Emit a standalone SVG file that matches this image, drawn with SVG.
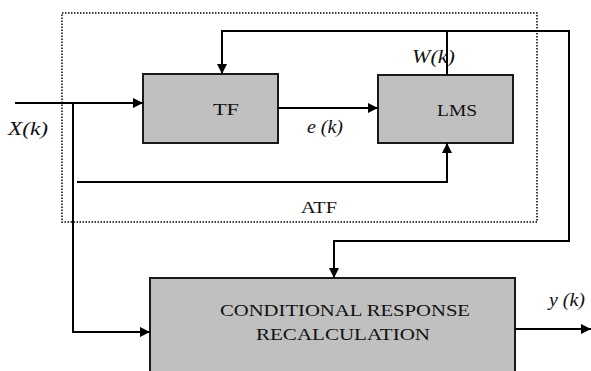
<svg xmlns="http://www.w3.org/2000/svg" width="591" height="371" viewBox="0 0 591 371">
<style>
.blk{fill:#c0c0c0;stroke:#1a1a1a;stroke-width:2}
.ln{fill:none;stroke:#000;stroke-width:2}
text{font-family:'Liberation Serif','DejaVu Serif','Times New Roman',serif;fill:#111}
.lbl{font-size:17px}
.it{font-style:italic;font-size:18px}
</style>
<defs>
<marker id="ah" viewBox="0 0 10 10" refX="10" refY="5" markerWidth="10" markerHeight="10" markerUnits="userSpaceOnUse" orient="auto">
<path d="M0,0 L10,5 L0,10 Z" fill="#000"/>
</marker>
</defs>
<rect x="62" y="13" width="475" height="209" fill="none" stroke="#000" stroke-width="1.5" stroke-dasharray="1.5,1.5"/>
<g id="tf"><rect class="blk" x="143" y="74" width="135" height="69"/><text class="lbl" x="226" y="115" text-anchor="middle" textLength="26" lengthAdjust="spacingAndGlyphs">TF</text></g>
<g id="lms"><rect class="blk" x="378" y="75" width="135" height="68"/><text class="lbl" x="457" y="116" text-anchor="middle" textLength="40" lengthAdjust="spacingAndGlyphs">LMS</text></g>
<g id="crr"><rect class="blk" x="150" y="278" width="365" height="100"/>
<text class="lbl" x="345" y="316" text-anchor="middle" textLength="250" lengthAdjust="spacingAndGlyphs">CONDITIONAL RESPONSE</text>
<text class="lbl" x="343" y="340" text-anchor="middle" textLength="174" lengthAdjust="spacingAndGlyphs">RECALCULATION</text></g>
<g id="connectors">
<path class="ln" d="M15,103 H143" marker-end="url(#ah)"/>
<path class="ln" d="M73,103 V332 H150" marker-end="url(#ah)"/>
<path class="ln" d="M77,182 H447 V143" marker-end="url(#ah)"/>
<path class="ln" d="M278,108 H378" marker-end="url(#ah)"/>
<path class="ln" d="M447,75 V31 H222 V74" marker-end="url(#ah)"/>
<path class="ln" d="M447,31 H569 V241 H334 V278" marker-end="url(#ah)"/>
<path class="ln" d="M515,329 H591" marker-end="url(#ah)"/>
</g>
<g id="labels">
<text class="it" x="8" y="135" textLength="40" lengthAdjust="spacingAndGlyphs">X(k)</text>
<text class="it" x="307" y="133" textLength="36" lengthAdjust="spacingAndGlyphs">e (k)</text>
<text class="it" x="412" y="63" textLength="43" lengthAdjust="spacingAndGlyphs">W(k)</text>
<text class="lbl" x="301" y="213" textLength="36" lengthAdjust="spacingAndGlyphs">ATF</text>
<text class="it" x="549" y="306" textLength="36" lengthAdjust="spacingAndGlyphs">y (k)</text>
</g>
</svg>
